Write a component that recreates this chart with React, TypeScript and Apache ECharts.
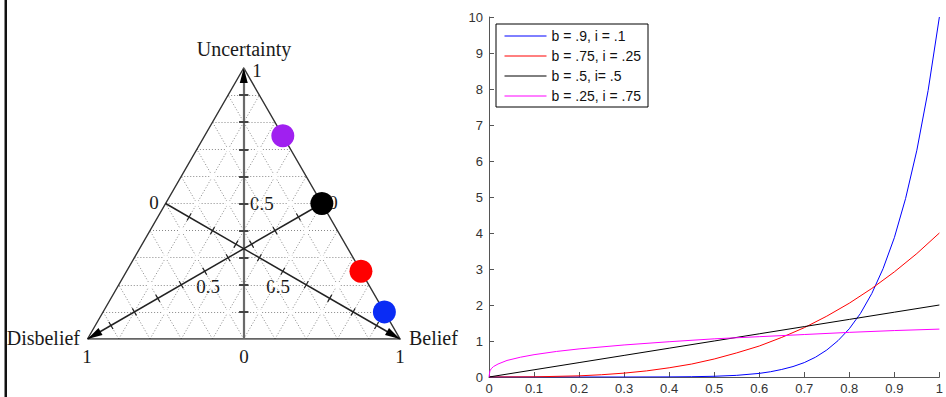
import React, { useEffect, useRef } from "react";
import * as echarts from "echarts";

// ---------- Right panel: curves ----------
const seriesNames = ["b = .9, i = .1", "b = .75, i = .25", "b = .5, i= .5", "b = .25, i = .75"];
const lineColors = ["#0000ff", "#ff0000", "#000000", "#ff00ff"];

const blueX = [0, 0.1, 0.2, 0.3, 0.4, 0.45, 0.5, 0.55, 0.6, 0.625, 0.65, 0.675, 0.7, 0.725, 0.75, 0.775, 0.8, 0.825, 0.85, 0.875, 0.9, 0.925, 0.95, 0.975, 1];
const blueY = [0, 0, 0, 0, 0.003, 0.008, 0.02, 0.046, 0.1, 0.146, 0.21, 0.29, 0.4, 0.55, 0.75, 1.01, 1.34, 1.77, 2.32, 3.01, 3.87, 4.96, 6.3, 7.96, 10];

const redX = [0, 0.1, 0.2, 0.25, 0.3, 0.35, 0.4, 0.45, 0.5, 0.55, 0.6, 0.65, 0.7, 0.75, 0.8, 0.85, 0.9, 0.95, 1];
const redY = [0, 0.004, 0.032, 0.063, 0.108, 0.17, 0.256, 0.36, 0.5, 0.67, 0.86, 1.1, 1.37, 1.69, 2.05, 2.46, 2.92, 3.43, 4.0];

const blackX = [0, 0.1, 0.2, 0.3, 0.4, 0.5, 0.6, 0.7, 0.8, 0.9, 1];
const blackY = [0, 0.2, 0.4, 0.6, 0.8, 1.0, 1.2, 1.4, 1.6, 1.8, 2.0];

const magentaX = [0, 0.002, 0.005, 0.01, 0.02, 0.04, 0.07, 0.1, 0.15, 0.2, 0.3, 0.4, 0.5, 0.6, 0.7, 0.8, 0.9, 1];
const magentaY = [0, 0.17, 0.23, 0.29, 0.36, 0.46, 0.55, 0.62, 0.71, 0.78, 0.89, 0.98, 1.06, 1.12, 1.18, 1.24, 1.29, 1.33];

// ---------- Left panel: opinion triangle ----------
const opinionBelief = [0.9, 0.75, 0.5, 0.25];
const opinionUncertainty = [0.1, 0.25, 0.5, 0.75];
const dotColors = ["#0a2cf5", "#ff0000", "#000000", "#a020f0"];
const cornerLabels = ["Disbelief", "Belief", "Uncertainty"];
const axisValueLabels = ["0", "0.5", "1"];
const gridDivisions = 10;

const H = Math.sqrt(3) / 2;
const tern = (b: number, u: number): [number, number] => [b + u / 2, u * H];

export default function App() {
  const ref = useRef<HTMLDivElement>(null);

  useEffect(() => {
    if (!ref.current) return;
    const chart = echarts.init(ref.current, undefined, { renderer: "svg" });

    const zip = (xs: number[], ys: number[]) => xs.map((x, i) => [x, ys[i]]);
    const curves = [zip(blueX, blueY), zip(redX, redY), zip(blackX, blackY), zip(magentaX, magentaY)];

    // triangle geometry
    const gridLines: any[] = [];
    for (let k = 1; k < gridDivisions; k++) {
      const t = k / gridDivisions;
      gridLines.push({ coords: [tern(0, t), tern(1 - t, t)] });
      gridLines.push({ coords: [tern(t, 0), tern(t, 1 - t)] });
      gridLines.push({ coords: [tern(1 - t, 0), tern(0, 1 - t)] });
    }
    const vertexDots: number[][] = [];
    for (let i = 1; i < gridDivisions; i++) {
      for (let j = 1; j < gridDivisions - i; j++) {
        vertexDots.push(tern(i / gridDivisions, j / gridDivisions));
      }
    }
    const outline = [{ coords: [tern(0, 0), tern(1, 0), tern(0, 1), tern(0, 0)] }];

    const uStart = tern(0.5, 0);
    const uEnd = tern(0, 1);
    const dStart = tern(0.5, 0.5);
    const dEnd = tern(0, 0);
    const bStart = tern(0, 0.5);
    const bEnd = tern(1, 0);

    const lerp = (a: number[], b: number[], t: number) => [a[0] + (b[0] - a[0]) * t, a[1] + (b[1] - a[1]) * t];
    const dirOf = (a: number[], b: number[]) => {
      const dx = b[0] - a[0], dy = b[1] - a[1];
      const l = Math.hypot(dx, dy);
      return [dx / l, dy / l];
    };

    const uTicks: any[] = [];
    const dbTicks: any[] = [];
    for (let k = 1; k < gridDivisions; k++) {
      const t = k / gridDivisions;
      const pu = lerp(uStart, uEnd, t);
      uTicks.push({ coords: [[pu[0] - 0.015, pu[1]], [pu[0] + 0.015, pu[1]]] });
      [[dStart, dEnd], [bStart, bEnd]].forEach(([s, e]) => {
        const p = lerp(s, e, t);
        const d = dirOf(s, e);
        const n = [-d[1], d[0]];
        const h = 0.013;
        dbTicks.push({ coords: [[p[0] - n[0] * h, p[1] - n[1] * h], [p[0] + n[0] * h, p[1] + n[1] * h]] });
      });
    }

    const arrowOff = 0.024;
    const arrowItem = (s: number[], e: number[]) => {
      const d = dirOf(s, e);
      const ang = (Math.atan2(d[1], d[0]) * 180) / Math.PI - 90;
      return { value: [e[0] - d[0] * arrowOff, e[1] - d[1] * arrowOff], symbolRotate: ang };
    };

    const serif = "'Liberation Serif', 'DejaVu Serif', serif";
    const txt = (text: string, x: number, y: number, size: number, align = "center") => ({
      type: "text",
      style: {
        text, x, y,
        font: `${size}px ${serif}`,
        fill: "#1a1a1a",
        align, textAlign: align,
        verticalAlign: "middle", textVerticalAlign: "middle",
      },
    });

    const triSeriesBase = { coordinateSystem: "cartesian2d", xAxisIndex: 1, yAxisIndex: 1, silent: true };
    const sans = "'Liberation Sans', Arial, sans-serif";

    chart.setOption({
      animation: false,
      grid: [
        { left: 489, right: 3, top: 17, bottom: 20, containLabel: false },
        { left: 87.5, top: 68, width: 312.5, height: 271 },
      ],
      xAxis: [
        {
          gridIndex: 0, type: "value", min: 0, max: 1, interval: 0.1,
          axisLine: { show: true, lineStyle: { color: "#555", width: 1 } },
          axisTick: { show: true, inside: true, length: 5, lineStyle: { color: "#555" } },
          axisLabel: { color: "#333", fontSize: 13, fontFamily: sans, margin: 5 },
          splitLine: { show: false },
        },
        { gridIndex: 1, type: "value", min: 0, max: 1, show: false },
      ],
      yAxis: [
        {
          gridIndex: 0, type: "value", min: 0, max: 10, interval: 1,
          axisLine: { show: true, lineStyle: { color: "#555", width: 1 } },
          axisTick: { show: true, inside: true, length: 5, lineStyle: { color: "#555" } },
          axisLabel: { color: "#333", fontSize: 13, fontFamily: sans, margin: 6 },
          splitLine: { show: false },
        },
        { gridIndex: 1, type: "value", min: 0, max: H, show: false },
      ],
      legend: {
        data: seriesNames.map((n, i) => ({
          name: n,
          lineStyle: { color: lineColors[i], width: 1, opacity: 1 },
          itemStyle: { color: "transparent", borderColor: "transparent", borderWidth: 0, opacity: 0 },
        })),
        orient: "vertical",
        left: 496, top: 24,
        itemWidth: 42, itemHeight: 14, itemGap: 6,
        padding: [5, 7, 4, 8],
        borderColor: "#000", borderWidth: 1, borderRadius: 0,
        backgroundColor: "#fff",
        textStyle: { fontSize: 14, color: "#111", fontFamily: sans },
      },
      graphic: [
        { type: "rect", shape: { x: 4.5, y: 0, width: 2.5, height: 397 }, style: { fill: "#111" } },
        txt(cornerLabels[2], 244, 49, 20),
        txt(cornerLabels[0], 80, 338, 20, "right"),
        txt(cornerLabels[1], 409, 338, 20, "left"),
        txt(axisValueLabels[2], 257, 70, 19),
        txt(axisValueLabels[2], 87, 356, 19),
        txt(axisValueLabels[0], 244, 356, 19),
        txt(axisValueLabels[2], 400, 356, 19),
        txt(axisValueLabels[0], 154, 202, 19),
        txt(axisValueLabels[0], 333, 202, 19),
        txt(axisValueLabels[1], 250, 203, 19, "left"),
        txt(axisValueLabels[1], 208, 286, 19),
        txt(axisValueLabels[1], 278, 286, 19),
      ],
      series: [
        ...curves.map((data, i) => ({
          name: seriesNames[i],
          type: "line",
          xAxisIndex: 0, yAxisIndex: 0,
          data,
          symbol: "none",
          showSymbol: false,
          color: lineColors[i],
          lineStyle: { color: lineColors[i], width: 1 },
          itemStyle: { color: lineColors[i] },
          z: 3,
        })),
        {
          ...triSeriesBase, type: "lines", data: gridLines,
          lineStyle: { color: "#888", width: 1, type: [1, 2], opacity: 1 }, z: 1,
        },
        {
          ...triSeriesBase, type: "scatter", data: vertexDots, symbol: "emptyCircle", symbolSize: 3.5,
          itemStyle: { color: "#fff", borderColor: "#aaa", borderWidth: 0.8, opacity: 1 }, z: 1,
        },
        {
          ...triSeriesBase, type: "lines", polyline: true, data: outline,
          lineStyle: { color: "#333", width: 1.4, opacity: 1 }, z: 2,
        },
        {
          ...triSeriesBase, type: "lines", data: [{ coords: [uStart, uEnd] }],
          lineStyle: { color: "#6a6a6a", width: 2.2, opacity: 1 }, z: 2,
        },
        {
          ...triSeriesBase, type: "lines", data: uTicks,
          lineStyle: { color: "#444", width: 2, opacity: 1 }, z: 2,
        },
        {
          ...triSeriesBase, type: "lines", data: [{ coords: [dStart, dEnd] }, { coords: [bStart, bEnd] }],
          lineStyle: { color: "#222", width: 1.5, opacity: 1 }, z: 2,
        },
        {
          ...triSeriesBase, type: "lines", data: dbTicks,
          lineStyle: { color: "#222", width: 1.2, opacity: 1 }, z: 2,
        },
        {
          ...triSeriesBase, type: "scatter",
          symbol: "path://M0,0L5,16L-5,16Z", symbolSize: [8, 15],
          data: [arrowItem(uStart, uEnd), arrowItem(dStart, dEnd), arrowItem(bStart, bEnd)],
          itemStyle: { color: "#000", opacity: 1 }, z: 3,
        },
        {
          ...triSeriesBase, type: "scatter", symbol: "circle", symbolSize: 23,
          data: opinionBelief.map((b, i) => ({ value: tern(b, opinionUncertainty[i]), itemStyle: { color: dotColors[i], opacity: 1 } })),
          z: 5,
        },
      ],
    });

    return () => chart.dispose();
  }, []);

  return <div ref={ref} style={{ position: "fixed", left: 0, top: 0, width: 946, height: 397, background: "#fff" }} />;
}
